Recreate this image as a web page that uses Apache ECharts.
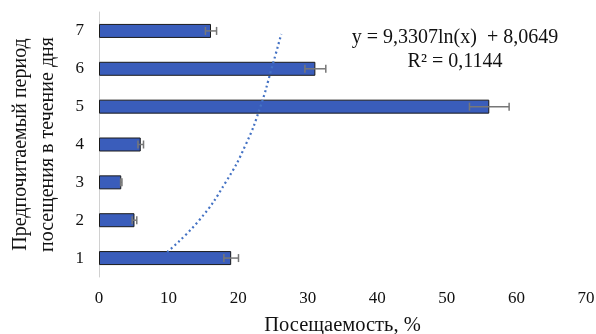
<!DOCTYPE html>
<html>
<head>
<meta charset="utf-8">
<script src="https://cdn.jsdelivr.net/npm/echarts@6/dist/echarts.min.js"></script>
<style>
html,body{margin:0;padding:0;background:#fff;}
#chart{width:596px;height:334px;}
</style>
</head>
<body>
<div id="chart"></div>
<script>
// Data
const categories = ['1', '2', '3', '4', '5', '6', '7'];
const values = [19.0, 5.1, 3.2, 6.0, 56.1, 31.1, 16.1];
const errors = [1.05, 0.33, 0.1, 0.4, 2.85, 1.5, 0.8];
// Dotted trendline, points (position on category axis, value)
const trendPos = [1.16, 2, 3, 4, 5, 6, 6.92];
const trendVal = [9.8, 14.4, 18.2, 21.1, 23.2, 24.8, 26.2];
const xTitle = 'Посещаемость, %';
const yTitle = 'Предпочитаемый период\nпосещения в течение дня';
const eqLine1 = 'y = 9,3307ln(x)  + 8,0649';
const eqLine2 = 'R² = 0,1144';

const FONT = '"Liberation Serif", "Times New Roman", serif';
const chart = echarts.init(document.getElementById('chart'), null, {renderer: 'canvas'});

const errData = values.map((v, i) => [v, i + 1, errors[i]]);
const trendData = trendPos.map((p, i) => [trendVal[i], p]);

chart.setOption({
  animation: false,
  backgroundColor: '#fff',
  grid: {left: 99, right: 10, top: 12, bottom: 57, containLabel: false, outerBoundsMode: 'none'},
  xAxis: {
    type: 'value', min: 0, max: 70, interval: 10,
    axisLine: {show: false}, axisTick: {show: false}, splitLine: {show: false},
    axisLabel: {fontFamily: FONT, fontSize: 17, color: '#111', margin: 13},
    name: xTitle, nameLocation: 'middle', nameGap: 38,
    nameTextStyle: {fontFamily: FONT, fontSize: 20.5, color: '#111'}
  },
  yAxis: [{
    type: 'category', data: categories,
    axisLine: {show: true, lineStyle: {color: '#D0D0D0', width: 1}},
    axisTick: {show: false},
    axisLabel: {fontFamily: FONT, fontSize: 17, color: '#111', margin: 15},
    name: yTitle, nameLocation: 'middle', nameGap: 38, nameRotate: 90,
    nameTextStyle: {fontFamily: FONT, fontSize: 20, color: '#111', lineHeight: 27, align: 'center'}
  }, {
    type: 'value', min: 0.5, max: 7.5, show: false
  }],
  series: [{
    type: 'bar', data: values, yAxisIndex: 0, barWidth: 14,
    itemStyle: {color: '#3A5DBB', borderColor: '#1A1A1A', borderWidth: 1}
  }, {
    type: 'custom', yAxisIndex: 1, data: errData, z: 5,
    renderItem: function (params, api) {
      const v = api.value(0), p = api.value(1), e = api.value(2);
      const a = api.coord([v - e, p]);
      const b = api.coord([v + e, p]);
      const h = 4;
      const st = {stroke: '#777', lineWidth: 1.5};
      return {type: 'group', children: [
        {type: 'line', shape: {x1: a[0], y1: a[1], x2: b[0], y2: b[1]}, style: st},
        {type: 'line', shape: {x1: a[0], y1: a[1] - h, x2: a[0], y2: a[1] + h}, style: st},
        {type: 'line', shape: {x1: b[0], y1: b[1] - h, x2: b[0], y2: b[1] + h}, style: st}
      ]};
    }
  }, {
    type: 'line', yAxisIndex: 1, data: trendData, smooth: true, showSymbol: false, z: 6,
    lineStyle: {color: '#4472C4', width: 2.2, type: [2, 3]}
  }],
  graphic: [{
    type: 'text', x: 455, y: 38,
    style: {text: eqLine1, fontFamily: FONT, fontSize: 20, fill: '#111', textAlign: 'center', textVerticalAlign: 'middle'}
  }, {
    type: 'text', x: 455, y: 62,
    style: {text: eqLine2, fontFamily: FONT, fontSize: 20, fill: '#111', textAlign: 'center', textVerticalAlign: 'middle'}
  }]
});
</script>
</body>
</html>
